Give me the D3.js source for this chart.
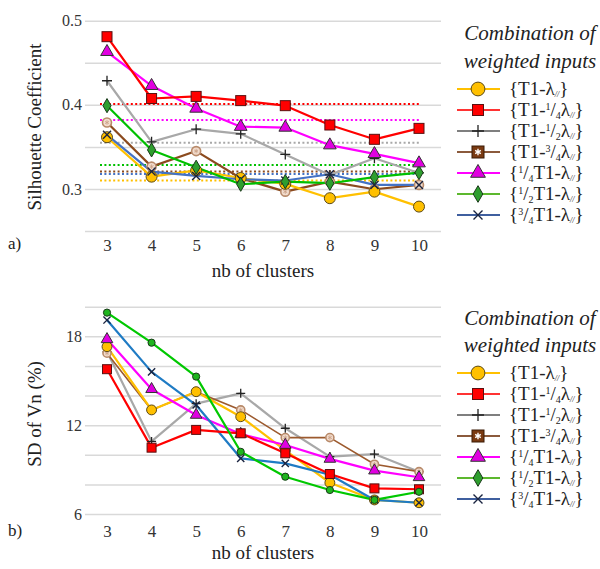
<!DOCTYPE html>
<html><head><meta charset="utf-8">
<script src="https://cdn.jsdelivr.net/npm/d3@7"></script>
<style>
html,body{margin:0;padding:0;background:#fff;}
svg{display:block;}
</style></head>
<body>
<svg id="chart" width="600" height="569"></svg>
<script>
// ---------- DATA ----------
const clusters = [3,4,5,6,7,8,9,10];
const seriesKeys = ["T1", "T1q", "T1h", "T1tq", "qT1", "hT1", "tqT1"];

// Silhouette coefficient (panel a)
const silT1   = [0.3615,0.3146,0.322,0.313,0.306,0.289,0.2968,0.279];
const silT1q  = [0.481,0.4075,0.410,0.405,0.399,0.376,0.359,0.372];
const silT1h  = [0.4286,0.356,0.371,0.3655,0.341,0.3167,0.3365,0.319];
const silT1tq = [0.379,0.3265,0.345,0.3127,0.2968,0.3087,0.2996,0.3048];
const silqT1  = [0.463,0.4226,0.3956,0.374,0.373,0.352,0.3417,0.3306];
const silhT1  = [0.399,0.3464,0.3258,0.3056,0.3087,0.3068,0.314,0.3194];
const siltqT1 = [0.3643,0.3206,0.3155,0.3115,0.31,0.3175,0.3048,0.3048];
// dotted reference levels (panel a)
const silRef  = [0.3099,0.401,0.355,0.3206,0.382,0.3286,0.3179];

// SD of Vn (%) (panel b)
const sdT1   = [17.3,13.03,14.26,12.57,10.3,8.11,6.95,6.76];
const sdT1q  = [15.78,10.48,11.68,11.45,10.1,8.7,7.73,7.67];
const sdT1h  = [16.95,10.9,13.45,14.15,11.79,9.87,10.05,8.86];
const sdT1tq = [16.86,13.03,14.26,13.03,11.16,11.16,9.36,8.86];
const sdqT1  = [17.8,14.43,12.69,11.4,10.66,9.72,8.93,8.48];
const sdhT1  = [19.6,17.57,15.28,10.2,8.52,7.62,6.95,7.5];
const sdtqT1 = [19.1,15.6,13.36,9.76,9.42,8.65,6.95,6.76];

const silTicks = [0.25,0.3,0.35,0.4,0.45,0.5];
const silLabels = [0.3,0.4,0.5];
const sdTicks = [6,8,10,12,14,16,18,20];
const sdLabels = [6,12,18];

// legend labels: parts [text, kind] kind: n normal, sup, sub, lam (tiny italic subscript)
const legendLabels = [
  [["{T1-","n"],["λ","n"],["//","lam"],["}","n"]],
  [["{T1-","n"],["1","sup"],["/","n"],["4","sub"],["λ","n"],["//","lam"],["}","n"]],
  [["{T1-","n"],["1","sup"],["/","n"],["2","sub"],["λ","n"],["//","lam"],["}","n"]],
  [["{T1-","n"],["3","sup"],["/","n"],["4","sub"],["λ","n"],["//","lam"],["}","n"]],
  [["{","n"],["1","sup"],["/","n"],["4","sub"],["T1-λ","n"],["//","lam"],["}","n"]],
  [["{","n"],["1","sup"],["/","n"],["2","sub"],["T1-λ","n"],["//","lam"],["}","n"]],
  [["{","n"],["3","sup"],["/","n"],["4","sub"],["T1-λ","n"],["//","lam"],["}","n"]]
];
const legendTitle = ["Combination of","weighted inputs"];

// ---------- STYLES ----------
const FONT = "'Liberation Serif', 'Noto Serif', 'DejaVu Serif', FreeSerif, Tinos, serif";
const style = {
  T1:   {line:"#FFC000", top:"#FFC000", legend:"#FFC000", marker:"circle", fill:"#FFC000"},
  T1q:  {line:"#FF0000", top:"#FF0000", legend:"#FF3333", marker:"square", fill:"#FF0000"},
  T1h:  {line:"#A8A8A8", top:"#A8A8A8", legend:"#7F7F7F", marker:"plus",   fill:"none"},
  T1tq: {line:"#9C5A2E", top:"#8B4A1E", legend:"#8B5A3C", marker:"star",   fill:"#f2dccd"},
  qT1:  {line:"#FF00FF", top:"#FF00FF", legend:"#FF00FF", marker:"tri",    fill:"#E000E0"},
  hT1:  {line:"#00C800", top:"#00C000", legend:"#5CB82E", marker:"diamond",fill:"#2E9E2E"},
  tqT1: {line:"#1F7BC4", top:"#4472C4", legend:"#3F5F9F", marker:"x",      fill:"none"}
};

const svg = d3.select("#chart").style("font-family", FONT);
const X0 = 85, X1 = 441;
const x = d3.scalePoint().domain(clusters).range([107, 419]);

function drawMarker(g, type, cx, cy, opts) {
  const o = Object.assign({s:1, legend:false, fill:null, bottom:false}, opts||{});
  const s = o.s;
  if (type === "circle") {
    g.append("circle").attr("cx",cx).attr("cy",cy).attr("r",(o.legend?6:5.5)*s)
      .attr("fill",o.fill).attr("stroke","#5b4a1a").attr("stroke-width",1);
  } else if (type === "square") {
    const h = o.legend ? 5.5 : 5*s;
    g.append("rect").attr("x",cx-h).attr("y",cy-h).attr("width",2*h).attr("height",2*h)
      .attr("fill",o.fill).attr("stroke","#5a1010").attr("stroke-width",1);
  } else if (type === "plus") {
    const r = o.legend ? 6 : 5*s;
    g.append("path").attr("d",`M${cx-r},${cy}H${cx+r}M${cx},${cy-r}V${cy+r}`)
      .attr("stroke","#222").attr("stroke-width",1.3);
  } else if (type === "star") {
    if (o.legend) {
      g.append("rect").attr("x",cx-6).attr("y",cy-6).attr("width",12).attr("height",12)
        .attr("fill","#7a3a12").attr("stroke","#3a1a05").attr("stroke-width",1);
      g.append("path").attr("d",d3.symbol(d3.symbolAsterisk,30)()).attr("transform",`translate(${cx},${cy})`)
        .attr("stroke","#fff").attr("stroke-width",1.4);
    } else {
      g.append("circle").attr("cx",cx).attr("cy",cy).attr("r",4.5*s)
        .attr("fill",o.fill).attr("stroke","#b88a6a").attr("stroke-width",1.6);
      g.append("path").attr("d",d3.symbol(d3.symbolAsterisk,14)()).attr("transform",`translate(${cx},${cy})`)
        .attr("stroke","#c9a085").attr("stroke-width",0.8);
    }
  } else if (type === "tri") {
    g.append("path").attr("d",d3.symbol(d3.symbolTriangle,o.legend?95:(o.bottom?58:70))()).attr("transform",`translate(${cx},${cy})`)
      .attr("fill",o.fill).attr("stroke","#333").attr("stroke-width",1);
  } else if (type === "diamond") {
    if (o.bottom) {
      g.append("circle").attr("cx",cx).attr("cy",cy).attr("r",3.6)
        .attr("fill","#1fb51f").attr("stroke","#1a3a1a").attr("stroke-width",1);
    } else {
      g.append("path").attr("d",d3.symbol(d3.symbolDiamond,o.legend?80:58)()).attr("transform",`translate(${cx},${cy})`)
        .attr("fill",o.fill).attr("stroke","#1a3a1a").attr("stroke-width",1);
    }
  } else if (type === "x") {
    const r = o.legend ? 4.5 : 4*s;
    g.append("path").attr("d",`M${cx-r},${cy-r}L${cx+r},${cy+r}M${cx-r},${cy+r}L${cx+r},${cy-r}`)
      .attr("stroke","#1a2440").attr("stroke-width",1.4);
  }
}

function panel(cfg) {
  const y = d3.scaleLinear().domain(cfg.domain).range(cfg.range);
  const g = svg.append("g");
  const yAxis = d3.axisLeft(y).tickValues(cfg.ticks).tickSize(-(X1-X0)).tickPadding(3)
    .tickFormat(d => cfg.labels.some(l => Math.abs(l-d)<1e-9) ? cfg.fmt(d) : "");
  const ga = g.append("g").attr("transform",`translate(${X0},0)`).call(yAxis);
  ga.attr("font-family",null).style("font-family",FONT);
  ga.select(".domain").remove();
  ga.selectAll(".tick line").attr("stroke","#d9d9d9").attr("stroke-width",1.5);
  ga.selectAll(".tick text").style("font-family",FONT).attr("font-size",16).attr("fill","#333");
  const xAxis = d3.axisBottom(x).tickSize(0).tickPadding(cfg.xpad);
  const gx = g.append("g").attr("transform",`translate(0,${y(cfg.domain[0])})`).call(xAxis);
  gx.attr("font-family",null).style("font-family",FONT);
  gx.select(".domain").remove();
  gx.selectAll(".tick text").style("font-family",FONT).attr("font-size",17).attr("fill","#333");
  g.append("text").attr("x",(X0+X1)/2).attr("y",cfg.xTitleY).attr("text-anchor","middle")
    .style("font-family",FONT).attr("font-size",19).attr("fill","#222").text("nb of clusters");
  g.append("text").attr("transform",`translate(${cfg.yTitleX},${cfg.yTitleY}) rotate(-90)`)
    .attr("text-anchor","middle").style("font-family",FONT).attr("font-size",19).attr("fill","#222").text(cfg.yTitle);
  g.append("text").attr("x",8).attr("y",cfg.tagY).style("font-family",FONT).attr("font-size",17).attr("fill","#222").text(cfg.tag);

  if (cfg.refs) {
    cfg.refs.forEach((v,i) => {
      const k = seriesKeys[i];
      g.append("line").attr("x1",x(3)-7).attr("x2",x(10)+1).attr("y1",y(v)).attr("y2",y(v))
        .attr("stroke",style[k].top).attr("stroke-width",2).attr("stroke-dasharray","2,2.4");
    });
  }
  const line = d3.line().x((d,i)=>x(clusters[i])).y(d=>y(d));
  cfg.order.forEach(i => {
    const k = seriesKeys[i];
    const col = cfg.top ? style[k].top : style[k].line;
    g.append("path").datum(cfg.series[i]).attr("d",line).attr("fill","none")
      .attr("stroke",col).attr("stroke-width", (!cfg.top && k==="T1tq") ? 1.6 : 2.2)
      .attr("stroke-linejoin","round");
  });
  cfg.order.forEach(i => {
    const k = seriesKeys[i];
    const mg = g.append("g");
    cfg.series[i].forEach((v,j) => drawMarker(mg, style[k].marker, x(clusters[j]), y(v),
      {fill:style[k].fill, bottom:!cfg.top, s: cfg.top?1:0.9}));
  });

  const lg = svg.append("g");
  legendTitle.forEach((t,i) => {
    lg.append("text").attr("x",530).attr("y",cfg.legTitleY + i*cfg.legTitleGap).attr("text-anchor","middle")
      .style("font-family",FONT).attr("font-style","italic").attr("font-size",21).attr("fill","#222").text(t);
  });
  seriesKeys.forEach((k,i) => {
    const yy = cfg.legY + i*21;
    lg.append("line").attr("x1",457).attr("x2",500).attr("y1",yy).attr("y2",yy)
      .attr("stroke",style[k].legend).attr("stroke-width",2);
    drawMarker(lg, style[k].marker, 478, yy, {legend:true, fill:style[k].fill, s:1.15});
    const t = lg.append("text").attr("x",509).attr("y",yy+6).style("font-family",FONT).attr("font-size",19).attr("fill","#222");
    let shift = 0;
    legendLabels[i].forEach(([txt,kind]) => {
      let target = 0, fs = 19, fi = null;
      if (kind==="sup") { target=-6; fs=10; }
      else if (kind==="sub") { target=3; fs=10; }
      else if (kind==="lam") { target=2; fs=8; fi="italic"; }
      const ts = t.append("tspan").attr("dy", target - shift).attr("font-size",fs).text(txt);
      if (fi) ts.attr("font-style",fi);
      shift = target;
    });
  });
}

panel({
  domain:[0.25,0.5], range:[231,20.7], ticks:silTicks, labels:silLabels, fmt:d3.format(".1f"),
  xpad:8, xTitleY:277, yTitle:"Silhouette Coefficient", yTitleX:41, yTitleY:127,
  tag:"a)", tagY:249, refs:silRef, top:true,
  series:[silT1,silT1q,silT1h,silT1tq,silqT1,silhT1,siltqT1], order:[2,3,0,6,5,4,1],
  legTitleY:40, legTitleGap:28, legY:89
});
panel({
  domain:[6,20], range:[514,306.7], ticks:sdTicks, labels:sdLabels, fmt:d3.format("d"),
  xpad:11, xTitleY:559, yTitle:"SD of Vn (%)", yTitleX:41, yTitleY:414,
  tag:"b)", tagY:536, refs:null, top:false,
  series:[sdT1,sdT1q,sdT1h,sdT1tq,sdqT1,sdhT1,sdtqT1], order:[2,3,0,4,6,1,5],
  legTitleY:325, legTitleGap:27, legY:373
});
</script>
</body></html>
